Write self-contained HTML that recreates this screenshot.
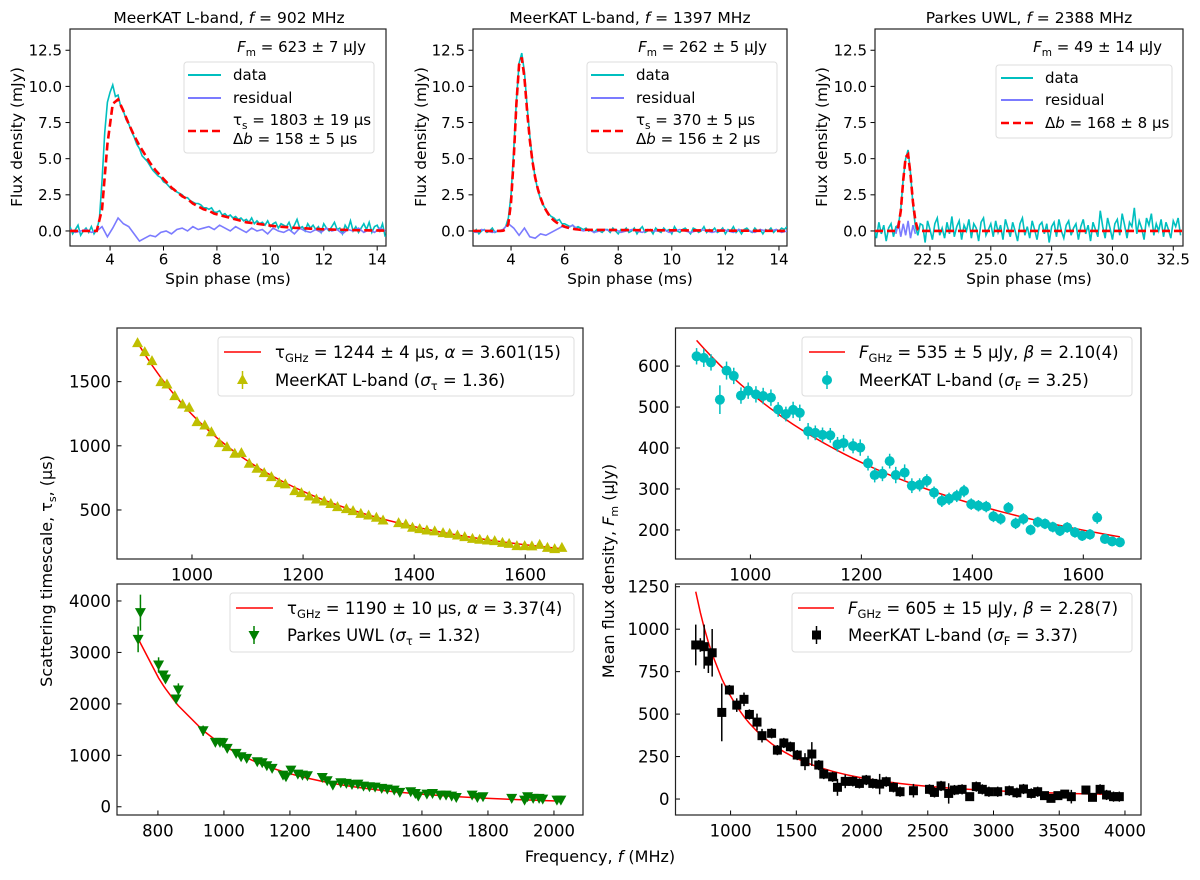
<!DOCTYPE html>
<html><head><meta charset="utf-8"><style>
html,body{margin:0;padding:0;background:#fff}
svg{display:block;font-family:"DejaVu Sans","Liberation Sans",sans-serif}
</style></head><body>
<svg id="fig" width="1200" height="880" viewBox="0 0 1200 880" xmlns="http://www.w3.org/2000/svg">
<defs>
<clipPath id="c1"><rect x="70" y="29" width="316" height="217"/></clipPath>
<clipPath id="c2"><rect x="473" y="29" width="314" height="217"/></clipPath>
<clipPath id="c3"><rect x="875" y="29" width="308" height="217"/></clipPath>
</defs>
<!-- titles -->
<g font-size="15.5" text-anchor="middle" fill="#000">
<text x="229" y="23">MeerKAT L-band, <tspan font-style="italic">f</tspan> = 902 MHz</text>
<text x="630" y="23">MeerKAT L-band, <tspan font-style="italic">f</tspan> = 1397 MHz</text>
<text x="1029" y="23">Parkes UWL, <tspan font-style="italic">f</tspan> = 2388 MHz</text>
<text x="228" y="284">Spin phase (ms)</text>
<text x="630" y="284">Spin phase (ms)</text>
<text x="1029" y="284">Spin phase (ms)</text>
<text transform="translate(22,137) rotate(-90)">Flux density (mJy)</text>
<text transform="translate(426,137) rotate(-90)">Flux density (mJy)</text>
<text transform="translate(827,137) rotate(-90)">Flux density (mJy)</text>
</g>
<g font-size="16" text-anchor="middle">
<text transform="translate(52,571) rotate(-90)">Scattering timescale, τ<tspan font-size="11" dy="4">s</tspan><tspan dy="-4">, (μs)</tspan></text>
<text transform="translate(614,571) rotate(-90)">Mean flux density, <tspan font-style="italic">F</tspan><tspan font-size="11" dy="4">m</tspan><tspan dy="-4"> (μJy)</tspan></text>
<text x="600" y="862">Frequency, <tspan font-style="italic">f</tspan> (MHz)</text>
</g>
<g id="plots"></g>
<!-- top legends -->
<g font-size="15">
<text x="366" y="52" text-anchor="end"><tspan font-style="italic">F</tspan><tspan font-size="10.5" dy="4">m</tspan><tspan dy="-4"> = 623 ± 7 μJy</tspan></text>
<rect x="184" y="62" width="190" height="91" rx="3" fill="#fff" fill-opacity="0.8" stroke="#ddd"/>
<line x1="188" y1="75" x2="221" y2="75" stroke="#00bfbf" stroke-width="2"/><text x="233" y="80">data</text>
<line x1="188" y1="98" x2="221" y2="98" stroke="#7b7bff" stroke-width="2"/><text x="233" y="103">residual</text>
<line x1="188" y1="131" x2="221" y2="131" stroke="#f00" stroke-width="2.5" stroke-dasharray="8,4"/>
<text x="233" y="125">τ<tspan font-size="10.5" dy="4">s</tspan><tspan dy="-4"> = 1803 ± 19 μs</tspan></text>
<text x="233" y="144">Δ<tspan font-style="italic">b</tspan> = 158 ± 5 μs</text>
</g>
<g font-size="15">
<text x="767" y="52" text-anchor="end"><tspan font-style="italic">F</tspan><tspan font-size="10.5" dy="4">m</tspan><tspan dy="-4"> = 262 ± 5 μJy</tspan></text>
<rect x="587" y="62" width="190" height="91" rx="3" fill="#fff" fill-opacity="0.8" stroke="#ddd"/>
<line x1="591" y1="75" x2="624" y2="75" stroke="#00bfbf" stroke-width="2"/><text x="636" y="80">data</text>
<line x1="591" y1="98" x2="624" y2="98" stroke="#7b7bff" stroke-width="2"/><text x="636" y="103">residual</text>
<line x1="591" y1="131" x2="624" y2="131" stroke="#f00" stroke-width="2.5" stroke-dasharray="8,4"/>
<text x="636" y="125">τ<tspan font-size="10.5" dy="4">s</tspan><tspan dy="-4"> = 370 ± 5 μs</tspan></text>
<text x="636" y="144">Δ<tspan font-style="italic">b</tspan> = 156 ± 2 μs</text>
</g>
<g font-size="15">
<text x="1162" y="52" text-anchor="end"><tspan font-style="italic">F</tspan><tspan font-size="10.5" dy="4">m</tspan><tspan dy="-4"> = 49 ± 14 μJy</tspan></text>
<rect x="996" y="65" width="176" height="73" rx="3" fill="#fff" fill-opacity="0.8" stroke="#ddd"/>
<line x1="1001" y1="78" x2="1033" y2="78" stroke="#00bfbf" stroke-width="2"/><text x="1045" y="83">data</text>
<line x1="1001" y1="100" x2="1033" y2="100" stroke="#7b7bff" stroke-width="2"/><text x="1045" y="105">residual</text>
<line x1="1001" y1="123" x2="1033" y2="123" stroke="#f00" stroke-width="2.5" stroke-dasharray="8,4"/>
<text x="1045" y="128">Δ<tspan font-style="italic">b</tspan> = 168 ± 8 μs</text>
</g>
<!-- bottom legends -->
<g font-size="16.5">
<rect x="218" y="337" width="356" height="59" rx="3" fill="#fff" fill-opacity="0.8" stroke="#ddd"/>
<line x1="224" y1="352" x2="261" y2="352" stroke="#f00" stroke-width="1.5"/>
<text x="275" y="358">τ<tspan font-size="11.5" dy="4">GHz</tspan><tspan dy="-4"> = 1244 ± 4 μs, </tspan><tspan font-style="italic">α</tspan> = 3.601(15)</text>
<line x1="242.5" y1="371" x2="242.5" y2="389" stroke="#bfbf00" stroke-width="1.5"/>
<polygon points="242.5,374 248,384 237,384" fill="#bfbf00"/>
<text x="275" y="386">MeerKAT L-band (<tspan font-style="italic">σ</tspan><tspan font-size="11.5" dy="4">τ</tspan><tspan dy="-4"> = 1.36)</tspan></text>
</g>
<g font-size="16.5">
<rect x="230" y="593" width="344" height="59" rx="3" fill="#fff" fill-opacity="0.8" stroke="#ddd"/>
<line x1="236" y1="608" x2="273" y2="608" stroke="#f00" stroke-width="1.5"/>
<text x="287" y="614">τ<tspan font-size="11.5" dy="4">GHz</tspan><tspan dy="-4"> = 1190 ± 10 μs, </tspan><tspan font-style="italic">α</tspan> = 3.37(4)</text>
<line x1="254" y1="626" x2="254" y2="644" stroke="#008000" stroke-width="1.5"/>
<polygon points="254,641 259.5,631 248.5,631" fill="#008000"/>
<text x="287" y="641">Parkes UWL (<tspan font-style="italic">σ</tspan><tspan font-size="11.5" dy="4">τ</tspan><tspan dy="-4"> = 1.32)</tspan></text>
</g>
<g font-size="16.5">
<rect x="802" y="337" width="330" height="59" rx="3" fill="#fff" fill-opacity="0.8" stroke="#ddd"/>
<line x1="809" y1="352" x2="845" y2="352" stroke="#f00" stroke-width="1.5"/>
<text x="859" y="358"><tspan font-style="italic">F</tspan><tspan font-size="11.5" dy="4">GHz</tspan><tspan dy="-4"> = 535 ± 5 μJy, </tspan><tspan font-style="italic">β</tspan> = 2.10(4)</text>
<line x1="827" y1="371" x2="827" y2="389" stroke="#00bfbf" stroke-width="1.5"/>
<circle cx="827" cy="380" r="5" fill="#00bfbf"/>
<text x="859" y="386">MeerKAT L-band (<tspan font-style="italic">σ</tspan><tspan font-size="11.5" dy="4">F</tspan><tspan dy="-4"> = 3.25)</tspan></text>
</g>
<g font-size="16.5">
<rect x="792" y="593" width="340" height="59" rx="3" fill="#fff" fill-opacity="0.8" stroke="#ddd"/>
<line x1="798" y1="608" x2="834" y2="608" stroke="#f00" stroke-width="1.5"/>
<text x="848" y="614"><tspan font-style="italic">F</tspan><tspan font-size="11.5" dy="4">GHz</tspan><tspan dy="-4"> = 605 ± 15 μJy, </tspan><tspan font-style="italic">β</tspan> = 2.28(7)</text>
<line x1="816.5" y1="626" x2="816.5" y2="644" stroke="#000" stroke-width="1.5"/>
<rect x="812" y="630.5" width="9" height="9" fill="#000"/>
<text x="848" y="641">MeerKAT L-band (<tspan font-style="italic">σ</tspan><tspan font-size="11.5" dy="4">F</tspan><tspan dy="-4"> = 3.37)</tspan></text>
</g>
</svg>
<script>
// ---------- top-panel profile data ----------
const p1DataStart = 2.5, p1DataStep = 0.1;
const p1Data = [0.3,-0.2,0.1,0.4,-0.3,0.0,0.2,-0.1,0.3,-0.2,0.1,
0.8,3.5,6.8,8.9,9.6,10.1,9.3,9.4,8.6,8.3,
7.7,7.4,6.9,6.5,6.0,5.7,5.2,5.0,4.8,4.5,
4.2,4.0,3.8,3.7,3.4,3.3,3.1,2.9,2.9,2.7,
2.6,2.5,2.3,2.3,2.1,2.0,1.9,1.9,1.8,1.6,
1.6,1.5,1.6,1.3,1.3,1.4,1.1,1.2,1.0,1.1,
0.9,1.0,0.8,0.9,0.7,0.8,0.6,0.9,0.5,0.7,
0.5,0.6,0.4,0.7,0.3,0.5,0.6,0.2,0.5,0.4,
0.3,0.6,0.1,0.4,0.8,0.2,0.3,0.0,0.5,0.2,
0.4,0.1,0.3,-0.1,0.5,0.2,0.0,0.3,0.6,0.1,
0.2,-0.2,0.4,0.1,0.7,0.0,0.3,-0.1,0.2,0.5,
0.1,0.6,-0.1,0.3,0.4,0.0,0.5,-0.4];
const p1ResStart = 2.5, p1ResStep = 0.2;
const p1Res = [0.1,-0.1,0.0,0.1,-0.1,0.0,
0.3,-0.4,0.2,0.9,0.5,0.3,-0.2,-0.7,-0.5,-0.3,
-0.4,-0.1,0.0,-0.2,0.1,0.2,0.0,0.3,0.1,0.2,
0.3,0.1,0.4,0.2,0.0,0.3,0.1,-0.1,0.2,0.0,
0.1,-0.2,0.2,0.0,-0.1,0.1,-0.2,0.2,0.0,-0.1,
0.1,-0.1,0.2,0.0,0.1,-0.2,0.1,0.0,0.2,-0.1,
0.1,-0.1,0.2,0.0];
const p1FitStart = 2.5, p1FitStep = 0.2;
const p1Fit = [0,0,0,0,0,0,
1.5,6.0,8.8,9.1,8.3,7.4,6.6,5.9,5.3,4.7,
4.2,3.8,3.4,3.0,2.7,2.4,2.2,1.9,1.7,1.5,
1.4,1.2,1.1,1.0,0.9,0.8,0.7,0.6,0.55,0.5,
0.45,0.4,0.35,0.3,0.28,0.25,0.22,0.2,0.18,0.16,
0.14,0.12,0.11,0.1,0.09,0.08,0.07,0.06,0.05,0.05,
0.04,0.04,0.03,0.03];

const p2DataStart = 2.5, p2DataStep = 0.1;
const p2Data = [0.0,-0.1,0.1,-0.2,0.0,0.1,-0.1,0.0,0.2,-0.1,0.0,
0.0,0.1,0.3,0.9,2.5,5.6,9.0,11.6,12.3,11.0,
8.6,6.6,4.9,3.7,2.8,2.2,1.8,1.5,1.2,1.0,
0.9,0.7,0.8,0.5,0.5,0.4,0.3,0.4,0.2,0.3,
0.2,0.1,0.2,0.0,0.1,-0.1,0.1,0.0,-0.1,0.1,
0.1,-0.1,0.2,0.0,-0.2,0.1,0.0,0.2,-0.1,0.0,
0.2,-0.2,0.1,0.3,-0.1,0.0,0.1,-0.2,0.2,0.0,
-0.1,0.2,0.0,0.1,-0.2,0.3,0.0,-0.1,0.1,0.2,
0.0,-0.2,0.2,0.1,-0.1,0.0,0.3,-0.1,0.1,0.0,
0.2,-0.1,0.0,0.2,-0.2,0.1,0.0,0.3,-0.1,0.1,
-0.2,0.1,0.2,0.0,-0.1,0.2,0.0,0.1,-0.2,0.1,
0.0,0.2,-0.1,0.1,0.0,0.2,0.1,0.3];
const p2ResStart = 2.5, p2ResStep = 0.2;
const p2Res = [0.0,-0.1,0.1,0.0,-0.1,0.0,
0.1,0.5,0.2,-0.3,0.2,-0.4,-0.5,-0.2,-0.3,-0.1,
0.1,0.3,0.2,0.4,0.1,0.0,0.1,-0.1,0.0,0.1,
0.0,0.1,-0.1,0.0,0.1,0.0,-0.1,0.1,0.0,0.0,
0.1,-0.1,0.0,0.1,0.0,-0.1,0.0,0.1,0.0,-0.1,
0.0,0.1,0.0,-0.1,0.1,0.0,0.0,-0.1,0.1,0.0,
0.0,0.1,-0.1,0.0];
const p2FitStart = 3.6, p2FitStep = 0.1;
const p2Fit = [0,0.02,0.1,0.5,2.0,5.0,8.8,11.5,12.0,10.6,8.3,6.3,4.8,3.7,2.9,2.3,1.8,1.45,1.15,0.9,0.72,0.58,0.47,0.38,0.3,0.24,0.19,0.15,0.12,0.1,0.08];

const p3DataStart = 20.2, p3DataStep = 0.1;
const p3Data = [0.3,-0.5,0.6,-0.2,0.4,-0.7,0.2,0.5,-0.4,0.3,
0.4,1.5,3.6,5.0,5.6,4.0,1.8,0.3,-0.3,0.5,
0.4,-0.8,0.7,0.1,-0.6,0.5,0.9,-0.3,0.2,-0.5,
0.6,-0.2,1.0,-0.4,0.3,0.7,-0.6,0.4,0.0,0.8,
-0.5,0.5,0.2,-0.7,0.6,0.9,-0.3,0.1,0.5,-0.4,
0.7,-0.1,0.4,-0.6,0.8,0.2,-0.4,0.6,0.0,-0.7,
0.5,0.9,-0.3,0.3,-0.5,0.7,0.1,-0.6,0.4,0.6,
-0.2,0.5,-0.8,0.3,0.6,-0.4,0.8,0.0,-0.5,0.4,
0.7,-0.3,0.2,0.5,-0.6,0.3,0.8,-0.2,0.4,-0.7,
0.6,0.1,-0.4,1.4,0.3,-0.5,0.9,0.2,-0.6,0.5,
0.8,-0.3,1.2,0.4,-0.5,0.6,0.3,1.6,-0.2,0.7,
0.2,-0.6,0.9,0.4,1.2,-0.3,0.5,0.0,0.8,-0.4,
0.6,0.1,-0.5,0.7,0.3,0.9,-0.3];
const p3ResStart = 21.1, p3ResStep = 0.1;
const p3Res = [-0.2,0.6,-0.4,0.5,-0.3,0.7,-0.5,0.4,-0.2];
const p3FitStart = 21.1, p3FitStep = 0.1;
const p3Fit = [0,0.3,1.4,3.5,5.1,5.3,3.9,2.0,0.7,0.1,0];

// ---------- bottom-panel data ----------
const tauMkFreq = [902,915,928,944,955,969,983,995,1009,1023,1035,1049,1063,1077,1089,1103,1117,1130,1143,1157,1168,1185,1197,1211,1224,1238,1250,1262,1278,1290,1304,1318,1332,1344,1372,1385,1397,1410,1423,1437,1452,1464,1478,1491,1505,1518,1532,1545,1559,1571,1585,1599,1612,1626,1640,1653,1666];
const tauMkVal = [1804,1734,1664,1500,1482,1391,1326,1300,1188,1162,1110,1025,994,942,947,864,825,791,760,713,703,651,635,609,586,570,550,526,511,495,474,461,443,422,401,391,365,355,344,337,324,318,305,292,279,272,266,261,248,240,222,222,220,232,209,199,209];
const tauMkFitParams = [1244, 3.601];

const tauPkFreq = [740,747,802,816,823,855,862,937,974,988,997,1010,1037,1052,1069,1101,1116,1130,1146,1179,1188,1203,1224,1238,1253,1298,1313,1330,1354,1371,1388,1406,1423,1441,1458,1478,1495,1516,1533,1566,1580,1589,1615,1632,1655,1673,1690,1704,1752,1768,1785,1872,1911,1920,1937,1955,1966,2009,2021];
const tauPkVal = [3254,3773,2755,2561,2483,2094,2269,1478,1251,1251,1245,1134,1037,972,940,875,856,797,746,616,583,713,635,616,603,570,506,421,467,454,434,441,402,389,382,357,344,324,279,292,259,207,246,259,227,227,207,181,227,181,194,162,130,194,162,162,149,130,130];
const tauPkErr = [250,350,150,60,60,80,130,100,40,40,40,40,40,30,30,30,30,30,30,40,30,40,30,30,30,30,30,30,20,20,20,20,20,20,20,20,20,20,20,20,20,20,20,20,20,20,20,20,20,20,20,20,20,20,20,20,20,20,20];
const tauPkFitParams = [1190, 3.37];

const fluxMkFreq = [903,916,929,945,957,970,983,996,1010,1023,1037,1050,1064,1077,1089,1104,1117,1130,1144,1157,1168,1185,1198,1212,1224,1238,1251,1262,1278,1291,1305,1318,1331,1345,1358,1372,1385,1398,1411,1425,1438,1451,1465,1478,1492,1505,1518,1531,1545,1558,1571,1585,1598,1612,1625,1639,1652,1666];
const fluxMkVal = [624,620,609,518,589,576,528,540,531,527,523,494,483,493,486,441,437,432,431,409,412,405,401,363,334,337,368,334,340,308,310,320,291,271,276,283,295,263,259,257,233,227,254,216,227,200,219,215,207,198,206,194,186,189,230,178,172,170];
const fluxMkErr = [20,22,20,35,22,20,20,20,20,20,20,18,18,20,20,20,18,18,18,18,20,18,20,18,18,18,18,20,20,18,16,16,15,15,15,15,15,14,14,14,14,14,14,14,14,13,13,13,13,13,13,13,13,13,15,12,12,12];
const fluxMkFitParams = [535, 2.10];

const fluxAllFreq = [735,770,799,831,860,933,991,1047,1102,1143,1201,1239,1312,1356,1405,1455,1507,1566,1618,1671,1709,1776,1813,1872,1930,1980,2032,2082,2134,2184,2239,2289,2391,2513,2551,2601,2659,2703,2761,2819,2869,2915,2965,3032,3120,3178,3228,3287,3336,3388,3437,3490,3542,3592,3703,3753,3811,3860,3913,3957];
const fluxAllVal = [907,907,897,812,861,510,642,553,587,498,453,373,387,288,330,308,259,220,265,200,147,131,69,104,104,92,112,92,88,102,69,43,49,57,39,77,33,53,57,14,73,57,43,43,49,37,59,33,43,20,4,20,29,14,53,10,57,24,14,14];
const fluxAllErr = [120,40,130,70,140,170,30,40,40,30,50,40,30,30,30,30,30,50,70,30,30,30,50,40,30,30,30,30,60,30,30,30,40,30,30,30,60,30,30,20,30,30,30,30,30,30,30,30,30,20,20,20,20,40,20,20,30,30,30,30];
const fluxAllFitParams = [605, 2.28];

// ---------- drawing ----------
const NS = 'http://www.w3.org/2000/svg';
const root = document.getElementById('plots');
function mk(tag, attrs, parent) {
  const e = document.createElementNS(NS, tag);
  for (const k in attrs) e.setAttribute(k, attrs[k]);
  (parent || root).appendChild(e);
  return e;
}
function scale(d0, d1, r0, r1) { return v => r0 + (v - d0) * (r1 - r0) / (d1 - d0); }

function axes(name, box, xd, yd, xticks, yticks, xfmt, yfmt, inward, fs) {
  const g = mk('g', {});
  
  
  const sx = scale(xd[0], xd[1], box.x0, box.x1);
  const sy = scale(yd[0], yd[1], box.y1, box.y0);
  const tl = 4.5, dir = inward ? -1 : 1;
  xticks.forEach(t => {
    const x = sx(t);
    const tk = mk('line', {x1: x, x2: x, y1: box.y1, y2: box.y1 + dir * tl, stroke: '#000', 'stroke-width': 1}, g);
    
    
    const lb = mk('text', {x: x, y: box.y1 + (inward ? 6 : 4) + fs * 0.95, 'font-size': fs, 'text-anchor': 'middle'}, g);
    lb.textContent = xfmt(t);
    
    
  });
  yticks.forEach(t => {
    const y = sy(t);
    const tk = mk('line', {x1: box.x0, x2: box.x0 - dir * tl, y1: y, y2: y, stroke: '#000', 'stroke-width': 1}, g);
    
    
    const lb = mk('text', {x: box.x0 - (inward ? 6 : 8), y: y + fs * 0.36, 'font-size': fs, 'text-anchor': 'end'}, g);
    lb.textContent = yfmt(t);
    
    
  });
  const fr = mk('rect', {x: box.x0, y: box.y0, width: box.x1 - box.x0, height: box.y1 - box.y0, fill: 'none', stroke: '#222', 'stroke-width': 1.2});
  
  
  return {sx, sy, g};
}
function stepPath(start, step, vals, sx, sy) {
  return vals.map((v, i) => (i ? 'L' : 'M') + sx(start + i * step).toFixed(2) + ',' + sy(v).toFixed(2)).join('');
}
function xyPath(xs, ys, sx, sy) {
  return xs.map((x, i) => (i ? 'L' : 'M') + sx(x).toFixed(2) + ',' + sy(ys[i]).toFixed(2)).join('');
}

// top panels
const topY = [-1.04, 13.97];
const topYT = [0, 2.5, 5, 7.5, 10, 12.5];
const f1 = v => v.toFixed(1);
const f0 = v => String(v);
const panels = [
  {name: 'profile-902', box: {x0: 70, x1: 386, y0: 29, y1: 246}, xd: [2.5, 14.33], xt: [4, 6, 8, 10, 12, 14], xf: f0, clip: 'c1',
   d: [p1DataStart, p1DataStep, p1Data], r: [p1ResStart, p1ResStep, p1Res], f: [p1FitStart, p1FitStep, p1Fit]},
  {name: 'profile-1397', box: {x0: 473, x1: 787, y0: 29, y1: 246}, xd: [2.58, 14.3], xt: [4, 6, 8, 10, 12, 14], xf: f0, clip: 'c2',
   d: [p2DataStart, p2DataStep, p2Data], r: [p2ResStart, p2ResStep, p2Res], f: [p2FitStart, p2FitStep, p2Fit]},
  {name: 'profile-2388', box: {x0: 875, x1: 1183, y0: 29, y1: 246}, xd: [20.24, 32.9], xt: [22.5, 25, 27.5, 30, 32.5], xf: f1, clip: 'c3',
   d: [p3DataStart, p3DataStep, p3Data], r: [p3ResStart, p3ResStep, p3Res], f: [p3FitStart, p3FitStep, p3Fit]}
];
panels.forEach(p => {
  const a = axes(p.name + '-axes', p.box, p.xd, topY, p.xt, topYT, p.xf, f1, false, 15);
  const cg = mk('g', {'clip-path': 'url(#' + p.clip + ')'});
  const dl = mk('path', {d: stepPath(p.d[0], p.d[1], p.d[2], a.sx, a.sy), fill: 'none', stroke: '#00bfbf', 'stroke-width': 1.6}, cg);
  
  
  const rl = mk('path', {d: stepPath(p.r[0], p.r[1], p.r[2], a.sx, a.sy), fill: 'none', stroke: '#7b7bff', 'stroke-width': 1.6}, cg);
  
  
  const fs = p.f[0], fe = p.f[0] + p.f[1] * (p.f[2].length - 1);
  let fd = 'M' + a.sx(p.xd[0]) + ',' + a.sy(0) + 'L' + a.sx(fs) + ',' + a.sy(0) + stepPath(fs, p.f[1], p.f[2], a.sx, a.sy).replace(/^M/, 'L');
  if (fe < p.xd[1]) fd += 'L' + a.sx(p.xd[1]) + ',' + a.sy(0);
  const fl = mk('path', {d: fd, fill: 'none', stroke: '#f00', 'stroke-width': 2.6, 'stroke-dasharray': '8,4'}, cg);
  
  
});

// bottom panels
function scatterPanel(cfg) {
  const a = axes(cfg.name + '-axes', cfg.box, cfg.xd, cfg.yd, cfg.xt, cfg.yt, f0, f0, true, 16.5);
  const fitY = cfg.xs.map(x => cfg.fit[0] * Math.pow(x / 1000, -cfg.fit[1]));
  const fl = mk('path', {d: xyPath(cfg.xs, fitY, a.sx, a.sy), fill: 'none', stroke: '#f00', 'stroke-width': 1.5});
  
  
  cfg.xs.forEach((x, i) => {
    const px = a.sx(x), py = a.sy(cfg.ys[i]);
    const e = cfg.err ? cfg.err[i] : 0;
    if (e) {
      const eb = mk('line', {x1: px, x2: px, y1: a.sy(cfg.ys[i] - e), y2: a.sy(cfg.ys[i] + e), stroke: cfg.color, 'stroke-width': 1.5});
      
      
    }
    let m;
    if (cfg.marker === 'up') m = mk('polygon', {points: `${px},${py - 5.5} ${px + 5.5},${py + 4.5} ${px - 5.5},${py + 4.5}`, fill: cfg.color});
    else if (cfg.marker === 'down') m = mk('polygon', {points: `${px},${py + 5.5} ${px + 5.5},${py - 4.5} ${px - 5.5},${py - 4.5}`, fill: cfg.color});
    else if (cfg.marker === 'circle') m = mk('circle', {cx: px, cy: py, r: 5, fill: cfg.color});
    else m = mk('rect', {x: px - 4.5, y: py - 4.5, width: 9, height: 9, fill: cfg.color});
    
    
  });
}
scatterPanel({name: 'tau-meerkat', box: {x0: 117, x1: 583, y0: 328, y1: 559}, xd: [865, 1704], yd: [118, 1918],
  xt: [1000, 1200, 1400, 1600], yt: [500, 1000, 1500], xs: tauMkFreq, ys: tauMkVal, err: null, fit: tauMkFitParams, color: '#bfbf00', marker: 'up'});
scatterPanel({name: 'tau-parkes', box: {x0: 117, x1: 583, y0: 584, y1: 815}, xd: [676, 2088], yd: [-160, 4330],
  xt: [800, 1000, 1200, 1400, 1600, 1800, 2000], yt: [0, 1000, 2000, 3000, 4000], xs: tauPkFreq, ys: tauPkVal, err: tauPkErr, fit: tauPkFitParams, color: '#008000', marker: 'down'});
scatterPanel({name: 'flux-meerkat', box: {x0: 675.5, x1: 1141, y0: 328, y1: 559}, xd: [865, 1704], yd: [129, 693],
  xt: [1000, 1200, 1400, 1600], yt: [200, 300, 400, 500, 600], xs: fluxMkFreq, ys: fluxMkVal, err: fluxMkErr, fit: fluxMkFitParams, color: '#00bfbf', marker: 'circle'});
scatterPanel({name: 'flux-all', box: {x0: 675.5, x1: 1141, y0: 584, y1: 815}, xd: [581, 4122], yd: [-94, 1266],
  xt: [1000, 1500, 2000, 2500, 3000, 3500, 4000], yt: [0, 250, 500, 750, 1000, 1250], xs: fluxAllFreq, ys: fluxAllVal, err: fluxAllErr, fit: fluxAllFitParams, color: '#000', marker: 'square'});
</script>
</body></html>
